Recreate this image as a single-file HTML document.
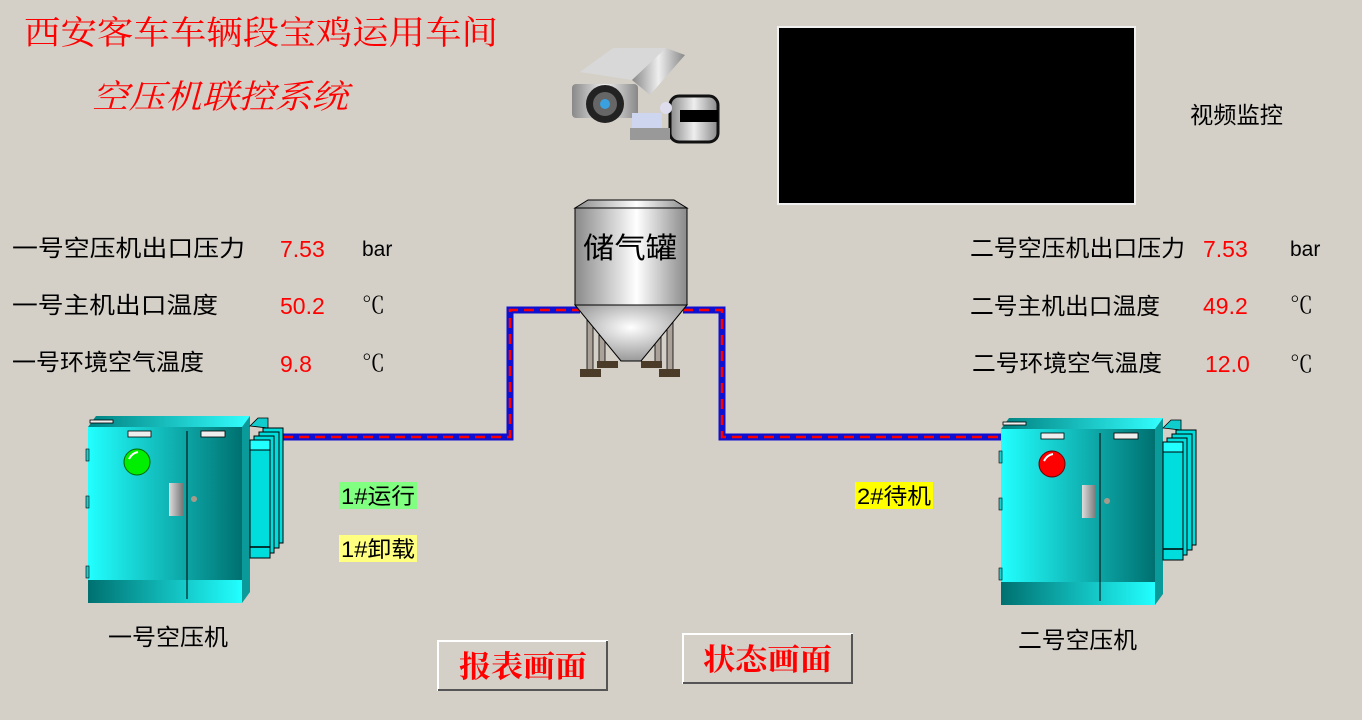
<!DOCTYPE html>
<html><head><meta charset="utf-8"><style>
html,body{margin:0;padding:0;background:#d4d0c8;}
svg{display:block;}
text{font-family:"Liberation Sans","Noto Sans CJK SC",sans-serif;}
.s{font-family:"Liberation Serif","Noto Serif CJK SC",serif;}
</style></head><body>
<svg width="1362" height="720" viewBox="0 0 1362 720" xmlns="http://www.w3.org/2000/svg">
<defs>
<linearGradient id="door" x1="0" x2="1"><stop offset="0" stop-color="#22ffff"/><stop offset="1" stop-color="#007070"/></linearGradient>
<linearGradient id="base" x1="0" x2="1"><stop offset="0" stop-color="#007070"/><stop offset="1" stop-color="#22ffff"/></linearGradient>
<linearGradient id="top" x1="0" x2="1"><stop offset="0" stop-color="#008080"/><stop offset="1" stop-color="#33ffff"/></linearGradient>
<linearGradient id="cyl" x1="0" x2="1"><stop offset="0" stop-color="#8a8a8a"/><stop offset="0.55" stop-color="#ffffff"/><stop offset="1" stop-color="#8a8a8a"/></linearGradient>
<radialGradient id="cone" cx="0.5" cy="0.4" r="0.6"><stop offset="0" stop-color="#fff"/><stop offset="1" stop-color="#999"/></radialGradient>
<linearGradient id="hdl" x1="0" x2="1"><stop offset="0" stop-color="#ddd"/><stop offset="1" stop-color="#777"/></linearGradient>
<linearGradient id="valve" x1="0" x2="1"><stop offset="0" stop-color="#eee"/><stop offset="1" stop-color="#888"/></linearGradient>
<linearGradient id="cam" x1="0" x2="1"><stop offset="0" stop-color="#888"/><stop offset="0.5" stop-color="#eee"/><stop offset="1" stop-color="#888"/></linearGradient>
<g id="cab">
  <polygon points="0,11 8,0 162,0 154,11" fill="url(#top)"/>
  <rect x="0" y="11" width="154" height="153" fill="url(#door)"/>
  <rect x="0" y="164" width="154" height="23" fill="url(#base)"/>
  <polygon points="154,11 162,0 162,176 154,187" fill="#0a9a9a"/>
  <rect x="2" y="4" width="23" height="3" fill="#eee" stroke="#000" stroke-width="0.8"/>
  <rect x="40" y="15" width="23" height="6" fill="#eee" stroke="#000" stroke-width="0.8"/>
  <rect x="113" y="15" width="24" height="6" fill="#eee" stroke="#000" stroke-width="0.8"/>
  <line x1="99" y1="15" x2="99" y2="183" stroke="#000" stroke-width="1"/>
  <rect x="81" y="67" width="14" height="33" fill="url(#hdl)"/>
  <circle cx="106" cy="83" r="3" fill="#a89a8a"/>
  <rect x="-2" y="33" width="3" height="12" fill="#2cc" stroke="#000" stroke-width="0.6"/>
  <rect x="-2" y="80" width="3" height="12" fill="#2cc" stroke="#000" stroke-width="0.6"/>
  <rect x="-2" y="150" width="3" height="12" fill="#2cc" stroke="#000" stroke-width="0.6"/>
  <rect x="175" y="12" width="20" height="115" fill="#0dd" stroke="#000" stroke-width="1"/>
  <rect x="171" y="16" width="20" height="116" fill="#0dd" stroke="#000" stroke-width="1"/>
  <rect x="166" y="20" width="20" height="117" fill="#0dd" stroke="#000" stroke-width="1"/>
  <polygon points="162,10 170,2 180,2 180,12" fill="#1cc" stroke="#000" stroke-width="0.8"/>
  <rect x="162" y="24" width="20" height="118" fill="#0dd" stroke="#000" stroke-width="1"/>
  <rect x="162" y="24" width="20" height="10" fill="#2ff" stroke="#000" stroke-width="1"/>
  <line x1="162" y1="131" x2="182" y2="131" stroke="#000" stroke-width="1.5"/>
</g>
<g id="valve">
  <rect x="-18" y="-52" width="36" height="11" fill="#a09890" stroke="#333" stroke-width="1"/>
  <rect x="-2" y="-41" width="4" height="40" fill="#bbb" stroke="#888" stroke-width="0.6"/>
  <polygon points="-22,-12 0,0 -22,12" fill="url(#valve)" stroke="#666" stroke-width="0.6"/>
  <polygon points="22,-12 0,0 22,12" fill="url(#valve)" stroke="#666" stroke-width="0.6"/>
</g>
</defs>

<text x="24" y="44" class="s" font-size="33" fill="#f00" textLength="474" lengthAdjust="spacingAndGlyphs">西安客车车辆段宝鸡运用车间</text>
<text x="92" y="108" class="s" font-size="33" font-style="italic" fill="#f00" textLength="256" lengthAdjust="spacingAndGlyphs">空压机联控系统</text>

<!-- camera -->
<g>
  <polygon points="580,72 613,48 666,48 632,80" fill="#d8d8d8"/>
  <polygon points="632,80 666,48 685,55 650,95" fill="url(#cam)"/>
  <rect x="572" y="84" width="66" height="34" rx="4" fill="url(#cam)"/>
  <circle cx="605" cy="104" r="19" fill="#222"/>
  <circle cx="605" cy="104" r="12" fill="#666"/>
  <circle cx="605" cy="104" r="5" fill="#3aa0e0"/>
  <rect x="670" y="96" width="48" height="46" rx="9" fill="url(#cam)" stroke="#111" stroke-width="3"/>
  <rect x="680" y="110" width="38" height="12" fill="#000"/>
  <rect x="632" y="113" width="30" height="18" fill="#cdd6ee"/>
  <rect x="630" y="128" width="40" height="12" fill="#999"/>
  <circle cx="666" cy="108" r="6" fill="#dde"/>
</g>

<rect x="778" y="27" width="357" height="177" fill="#000" stroke="#f0f0f0" stroke-width="2"/>
<text x="1190" y="123" font-size="23" fill="#000" textLength="93" lengthAdjust="spacingAndGlyphs">视频监控</text>

<!-- labels -->
<g font-size="23" fill="#000">
<text x="12" y="256" textLength="233" lengthAdjust="spacingAndGlyphs">一号空压机出口压力</text>
<text x="12" y="313" textLength="206" lengthAdjust="spacingAndGlyphs">一号主机出口温度</text>
<text x="12" y="370" textLength="192" lengthAdjust="spacingAndGlyphs">一号环境空气温度</text>
<text x="970" y="256" textLength="215" lengthAdjust="spacingAndGlyphs">二号空压机出口压力</text>
<text x="970" y="314" textLength="190" lengthAdjust="spacingAndGlyphs">二号主机出口温度</text>
<text x="972" y="371" textLength="190" lengthAdjust="spacingAndGlyphs">二号环境空气温度</text>
<text x="362" y="256" font-size="21">bar</text>
<text x="362" y="313" class="s">℃</text>
<text x="362" y="371" class="s">℃</text>
<text x="1290" y="256" font-size="21">bar</text>
<text x="1290" y="313" class="s">℃</text>
<text x="1290" y="372" class="s">℃</text>
</g>
<g font-size="23" fill="#f00">
<text x="280" y="257">7.53</text>
<text x="280" y="314">50.2</text>
<text x="280" y="372">9.8</text>
<text x="1203" y="257">7.53</text>
<text x="1203" y="314">49.2</text>
<text x="1205" y="372">12.0</text>
</g>

<!-- pipes -->
<polyline points="283,437 510,437 510,310 580,310" fill="none" stroke="#1010d0" stroke-width="7"/>
<polyline points="283,437 510,437 510,310 580,310" fill="none" stroke="#f00" stroke-width="2.5" stroke-dasharray="10,6"/>
<polyline points="683,310 722,310 722,437 1002,437" fill="none" stroke="#1010d0" stroke-width="7"/>
<polyline points="683,310 722,310 722,437 1002,437" fill="none" stroke="#f00" stroke-width="2.5" stroke-dasharray="10,6"/>

<!-- tank -->
<rect x="587" y="320" width="6" height="50" fill="#aaa299" stroke="#000" stroke-width="0.8"/>
<rect x="599" y="320" width="6" height="45" fill="#aaa299" stroke="#000" stroke-width="0.8"/>
<rect x="655" y="320" width="6" height="45" fill="#aaa299" stroke="#000" stroke-width="0.8"/>
<rect x="667" y="320" width="6" height="50" fill="#aaa299" stroke="#000" stroke-width="0.8"/>
<rect x="580" y="369" width="21" height="8" fill="#4a3c28"/>
<rect x="659" y="369" width="21" height="8" fill="#4a3c28"/>
<rect x="597" y="361" width="21" height="7" fill="#4a3c28"/>
<rect x="641" y="361" width="21" height="7" fill="#4a3c28"/>
<polygon points="575,305 687,305 641,361 621,361" fill="url(#cone)" stroke="#000" stroke-width="1"/>
<polygon points="575,208 588,200 674,200 687,208" fill="url(#cyl)" stroke="#000" stroke-width="1"/>
<rect x="575" y="208" width="112" height="97" fill="url(#cyl)" stroke="#000" stroke-width="1"/>
<text x="583" y="258" font-size="29" fill="#000" textLength="94" lengthAdjust="spacingAndGlyphs">储气罐</text>

<use href="#valve" x="430" y="437"/>
<use href="#valve" x="818" y="437"/>

<use href="#cab" x="88" y="416"/>
<circle cx="137" cy="462" r="13" fill="#0e0" stroke="#060" stroke-width="1"/>
<path d="M129,459 q3,-6 9,-7" stroke="#fff" stroke-width="2" fill="none"/>
<use href="#cab" x="1001" y="418"/>
<circle cx="1052" cy="464" r="13" fill="#f00" stroke="#600" stroke-width="1"/>
<path d="M1044,461 q3,-6 9,-7" stroke="#fff" stroke-width="2" fill="none"/>

<rect x="339" y="482" width="78" height="27" fill="#80ff80"/>
<text x="341" y="504" font-size="22" fill="#000" textLength="74" lengthAdjust="spacingAndGlyphs">1#运行</text>
<rect x="339" y="535" width="78" height="27" fill="#ffff80"/>
<text x="341" y="557" font-size="22" fill="#000" textLength="74" lengthAdjust="spacingAndGlyphs">1#卸载</text>
<rect x="855" y="482" width="78" height="27" fill="#ffff00"/>
<text x="857" y="504" font-size="22" fill="#000" textLength="74" lengthAdjust="spacingAndGlyphs">2#待机</text>

<text x="108" y="645" font-size="23" fill="#000" textLength="120" lengthAdjust="spacingAndGlyphs">一号空压机</text>
<text x="1018" y="648" font-size="23" fill="#000" textLength="119" lengthAdjust="spacingAndGlyphs">二号空压机</text>

<rect x="438" y="641" width="169" height="49" fill="#d4d0c8" stroke="#fff" stroke-width="2"/>
<path d="M438,690 H607 V641" fill="none" stroke="#555" stroke-width="2"/>
<text x="459" y="677" class="s" font-size="30" font-weight="bold" fill="#f00" textLength="128" lengthAdjust="spacingAndGlyphs">报表画面</text>
<rect x="683" y="634" width="169" height="49" fill="#d4d0c8" stroke="#fff" stroke-width="2"/>
<path d="M683,683 H852 V634" fill="none" stroke="#555" stroke-width="2"/>
<text x="703" y="670" class="s" font-size="30" font-weight="bold" fill="#f00" textLength="129" lengthAdjust="spacingAndGlyphs">状态画面</text>
</svg>
</body></html>
